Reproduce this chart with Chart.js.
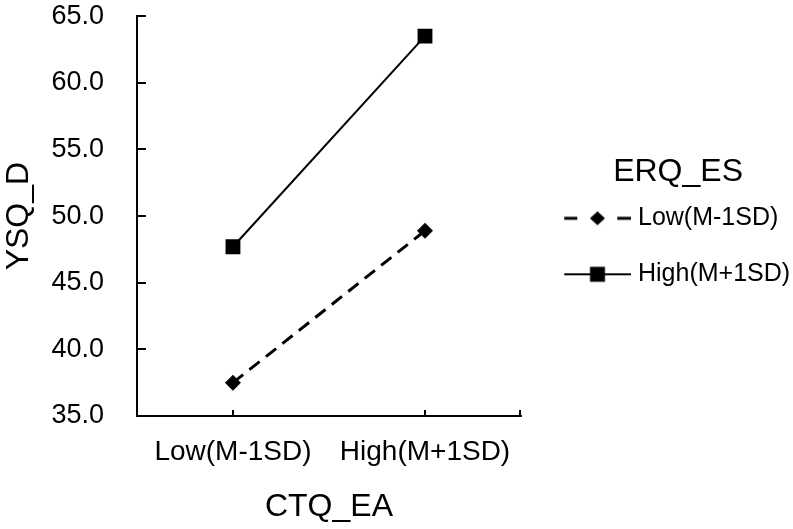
<!DOCTYPE html>
<html>
<head>
    <title>YSQ_D by CTQ_EA and ERQ_ES</title>
    <script src="https://cdn.jsdelivr.net/npm/chart.js"></script>
    <style>
        body { margin: 0; background: #fff; }
        #wrap { width: 793px; height: 529px; position: relative; }
    </style>
</head>
<body>
    <div id="wrap"><canvas id="slopeChart"></canvas></div>

    <script>
        // data
        var categories = ['Low(M-1SD)', 'High(M+1SD)'];
        var lowEsValues = [37.5, 48.9];
        var highEsValues = [47.7, 63.5];
        var seriesNames = ['Low(M-1SD)', 'High(M+1SD)'];
        var legendTitle = 'ERQ_ES';
        var yTicks = { min: 35, max: 65, step: 5 };

        var FONT = "'Liberation Sans', Arial, sans-serif";
        var NONE = 'rgba(0,0,0,0)';

        // little line+marker pictures for the legend
        function makeSwatch(dashed, square) {
            var c = document.createElement('canvas');
            c.width = 85; c.height = 20;
            var g = c.getContext('2d');
            g.strokeStyle = '#000';
            g.fillStyle = '#000';
            if (dashed) {
                g.lineWidth = 3;
                g.beginPath();
                g.moveTo(18, 10); g.lineTo(31, 10);
                g.moveTo(71, 10); g.lineTo(85, 10);
                g.stroke();
            } else {
                g.lineWidth = 2;
                g.beginPath();
                g.moveTo(18, 10); g.lineTo(85, 10);
                g.stroke();
            }
            if (square) {
                g.fillRect(51.25 - 7.5, 10 - 7.5, 15, 15);
            } else {
                g.beginPath();
                g.moveTo(51.25, 3); g.lineTo(58.75, 10); g.lineTo(51.25, 17); g.lineTo(43.75, 10);
                g.closePath();
                g.fill();
            }
            return c;
        }
        var swatches = [makeSwatch(true, false), makeSwatch(false, true)];

        // inward tick marks like the original, plus the legend heading
        var extras = {
            id: 'extras',
            afterDraw: function (chart) {
                var ctx = chart.ctx, x = chart.scales.x, y = chart.scales.y;
                var area = chart.chartArea;
                ctx.save();
                ctx.strokeStyle = '#000';
                ctx.lineWidth = 2;
                ctx.beginPath();
                y.ticks.forEach(function (t) {
                    var py = Math.round(y.getPixelForValue(t.value));
                    ctx.moveTo(area.left, py);
                    ctx.lineTo(area.left + 9, py);
                });
                categories.forEach(function (c, i) {
                    var px = Math.round(x.getPixelForValue(i));
                    ctx.moveTo(px, area.bottom);
                    ctx.lineTo(px, area.bottom - 6);
                });
                ctx.moveTo(area.right - 1, area.bottom);
                ctx.lineTo(area.right - 1, area.bottom - 6);
                ctx.stroke();

                var hits = chart.legend.legendHitBoxes;
                if (hits && hits.length) {
                    var wide = hits[hits.length - 1];
                    ctx.fillStyle = '#000';
                    ctx.font = '32px ' + FONT;
                    ctx.textAlign = 'center';
                    ctx.textBaseline = 'middle';
                    ctx.fillText(legendTitle, (wide.left + 14 + wide.left + wide.width) / 2, hits[0].top - 34);
                }
                ctx.restore();
            }
        };

        var ctx = document.getElementById('slopeChart').getContext('2d');
        var chart = new Chart(ctx, {
            type: 'line',
            data: {
                labels: categories,
                datasets: [{
                    label: seriesNames[0],
                    data: lowEsValues,
                    borderColor: '#000',
                    backgroundColor: '#000',
                    borderWidth: 3,
                    borderDash: [13, 8],
                    pointStyle: 'rectRot',
                    pointRadius: 8,
                    pointBorderWidth: 0,
                    fill: false
                }, {
                    label: seriesNames[1],
                    data: highEsValues,
                    borderColor: '#000',
                    backgroundColor: '#000',
                    borderWidth: 2,
                    pointStyle: 'rect',
                    pointRadius: 10.5,
                    pointBorderWidth: 0,
                    fill: false
                }]
            },
            options: {
                responsive: true,
                maintainAspectRatio: false,
                animation: false,
                layout: { padding: { top: 15, right: 0, bottom: 0, left: 0 } },
                scales: {
                    x: {
                        type: 'category',
                        offset: true,
                        grid: { display: true, drawOnChartArea: false, drawTicks: true, tickLength: 19, tickColor: NONE, offset: false },
                        border: { color: '#000', width: 2 },
                        ticks: { color: '#000', padding: 0, maxRotation: 0, font: { family: FONT, size: 28 } },
                        title: {
                            display: true, text: 'CTQ_EA', color: '#000',
                            font: { family: FONT, size: 32 },
                            padding: { top: 19, bottom: 3 }
                        }
                    },
                    y: {
                        min: yTicks.min,
                        max: yTicks.max,
                        grid: { display: true, drawOnChartArea: false, drawTicks: true, tickLength: 33, tickColor: NONE },
                        border: { color: '#000', width: 2 },
                        ticks: {
                            stepSize: yTicks.step,
                            color: '#000',
                            padding: 0,
                            font: { family: FONT, size: 27 },
                            callback: function (v) { return v.toFixed(1); }
                        },
                        title: {
                            display: true, text: 'YSQ_D', color: '#000',
                            font: { family: FONT, size: 32 },
                            padding: { top: 0, bottom: 13 }
                        }
                    }
                },
                plugins: {
                    tooltip: { enabled: false },
                    legend: {
                        position: 'right',
                        fullSize: false,
                        maxWidth: 272,
                        title: {
                            display: true, text: '',
                            font: { family: FONT, size: 32 },
                            padding: { top: 11, bottom: 11 }
                        },
                        labels: {
                            usePointStyle: true,
                            pointStyleWidth: 73.5,
                            padding: 31,
                            color: '#000',
                            font: { family: FONT, size: 25 },
                            generateLabels: function (chart) {
                                var items = Chart.defaults.plugins.legend.labels.generateLabels(chart);
                                items.forEach(function (it, i) { it.pointStyle = swatches[i]; });
                                return items;
                            }
                        }
                    }
                }
            },
            plugins: [extras]
        });
    </script>
</body>
</html>
